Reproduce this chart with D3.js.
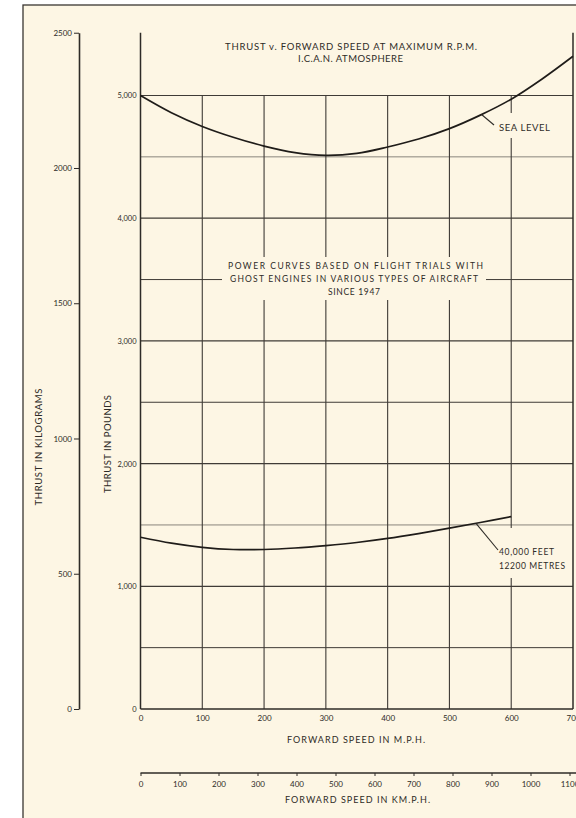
<!DOCTYPE html>
<html>
<head>
<meta charset="utf-8">
<script src="https://cdn.jsdelivr.net/npm/d3@7"></script>
<style>
body { margin: 0; background: #fff; }
svg text { font-family: Lato, "DejaVu Sans", sans-serif; fill: #2e2b27; }
</style>
</head>
<body>
<svg id="chart" width="576" height="818"></svg>
<script>
// values
var mphTicks = [0, 100, 200, 300, 400, 500, 600, 700];
var kmhTicks = [0, 100, 200, 300, 400, 500, 600, 700, 800, 900, 1000, 1100];
var lbsTicks = [0, 1000, 2000, 3000, 4000, 5000];
var lbsGrid = [500, 1000, 1500, 2000, 2500, 3000, 3500, 4000, 4500, 5000];
var kgTicks = [0, 500, 1000, 1500, 2000, 2500];

var seaLevelMph = [0, 50, 100, 150, 200, 250, 300, 350, 400, 450, 500, 550, 600, 650, 700];
var seaLevelLbs = [5000, 4860, 4748, 4660, 4588, 4535, 4512, 4528, 4580, 4645, 4730, 4840, 4970, 5135, 5320];

var alt40kMph = [0, 50, 100, 150, 200, 250, 300, 350, 400, 450, 500, 550, 600];
var alt40kLbs = [1400, 1352, 1318, 1300, 1300, 1312, 1332, 1357, 1390, 1430, 1474, 1520, 1568];

var LB_PER_KG = 2.20462;
var cream = "#fdf6e4", ink = "#2e2b27";

var svg = d3.select("#chart");

var x = d3.scaleLinear().domain([0, 700]).range([140.5, 573]);
var y = d3.scaleLinear().domain([0, 5000]).range([709, 95.5]);
var yKg = d3.scaleLinear().domain([0, 2500]).range([y(0), y(2500 * LB_PER_KG)]);
var xKmh = d3.scaleLinear().domain([0, 1100]).range([140.5, 569.5]);
var plotTop = yKg(2500);

// paper + frame
svg.append("rect").attr("x", 23).attr("y", 5).attr("width", 600).attr("height", 840)
	.attr("fill", cream).attr("stroke", "#3a3632").attr("stroke-width", 1.3);

// horizontal grid
svg.append("g").selectAll("line").data(lbsGrid).join("line")
	.attr("x1", x(0)).attr("x2", x(700))
	.attr("y1", function(d) { return y(d); }).attr("y2", function(d) { return y(d); })
	.attr("stroke", function(d) { return (d === 1500 || d === 4500) ? "#8a857c" : "#3f3b36"; })
	.attr("stroke-width", function(d) { return d % 1000 === 0 ? 1.2 : 1; });

// vertical grid
svg.append("g").selectAll("line").data(mphTicks.slice(1, -1)).join("line")
	.attr("x1", function(d) { return x(d); }).attr("x2", function(d) { return x(d); })
	.attr("y1", y(5000)).attr("y2", y(0))
	.attr("stroke", "#3f3b36").attr("stroke-width", 1.1);

// full-height frame lines of the plot
svg.append("g").selectAll("line").data([0, 700]).join("line")
	.attr("x1", function(d) { return x(d); }).attr("x2", function(d) { return x(d); })
	.attr("y1", plotTop).attr("y2", y(0))
	.attr("stroke", ink).attr("stroke-width", 1.5);
svg.append("line").attr("x1", x(0)).attr("x2", x(700)).attr("y1", y(0)).attr("y2", y(0))
	.attr("stroke", ink).attr("stroke-width", 1.5);

// masks behind the notes
function mask(x0, y0, w, h) {
	svg.append("rect").attr("x", x0).attr("y", y0).attr("width", w).attr("height", h).attr("fill", cream);
}
mask(222, 257, 264, 43);
mask(496, 113, 57, 25);
mask(496, 528, 72, 50);

// curves
var line = d3.line()
	.x(function(d) { return x(d[0]); })
	.y(function(d) { return y(d[1]); })
	.curve(d3.curveCatmullRom);

svg.append("path").datum(d3.zip(seaLevelMph, seaLevelLbs))
	.attr("fill", "none").attr("stroke", "#1f1c19").attr("stroke-width", 1.7).attr("d", line);
svg.append("path").datum(d3.zip(alt40kMph, alt40kLbs))
	.attr("fill", "none").attr("stroke", "#1f1c19").attr("stroke-width", 1.7).attr("d", line);

// leaders
var seaAt = d3.scaleLinear().domain(seaLevelMph).range(seaLevelLbs);
var altAt = d3.scaleLinear().domain(alt40kMph).range(alt40kLbs);
svg.append("line").attr("x1", x(552)).attr("y1", y(seaAt(552))).attr("x2", 494).attr("y2", 125)
	.attr("stroke", ink).attr("stroke-width", 1.1);
svg.append("line").attr("x1", x(543)).attr("y1", y(altAt(543))).attr("x2", 498).attr("y2", 550)
	.attr("stroke", ink).attr("stroke-width", 1.1);

// kg axis
var kgAxis = svg.append("g").attr("transform", "translate(79,0)")
	.call(d3.axisLeft(yKg).tickValues(kgTicks).tickSize(5).tickSizeOuter(0).tickPadding(2)
		.tickFormat(d3.format("d")));
kgAxis.select(".domain").attr("stroke", ink).attr("stroke-width", 1.6);
kgAxis.selectAll(".tick line").attr("stroke", ink);
kgAxis.selectAll("text").attr("font-size", 8).attr("font-family", "Lato, sans-serif").attr("fill", ink);

// pounds labels
var lbAxis = svg.append("g").attr("transform", "translate(" + x(0) + ",0)")
	.call(d3.axisLeft(y).tickValues(lbsTicks).tickSize(0).tickPadding(4)
		.tickFormat(function(d) { return d === 0 ? "0" : d3.format(",")(d); }));
lbAxis.select(".domain").remove();
lbAxis.selectAll("text").attr("font-size", 7.5).attr("font-family", "Lato, sans-serif").attr("fill", ink);

// mph labels
var mphAxis = svg.append("g").attr("transform", "translate(0," + y(0) + ")")
	.call(d3.axisBottom(x).tickValues(mphTicks).tickSize(0).tickPadding(6));
mphAxis.select(".domain").remove();
mphAxis.selectAll("text").attr("font-size", 8).attr("font-family", "Lato, sans-serif").attr("fill", ink);

// km/h axis
var kmhAxis = svg.append("g").attr("transform", "translate(0,773)")
	.call(d3.axisBottom(xKmh).tickValues(kmhTicks).tickSize(3).tickSizeOuter(0).tickPadding(5)
		.tickFormat(d3.format("d")));
kmhAxis.select(".domain").remove();
kmhAxis.selectAll(".tick line").attr("stroke", ink);
kmhAxis.selectAll("text").attr("font-size", 8).attr("font-family", "Lato, sans-serif").attr("fill", ink);
svg.append("line").attr("x1", xKmh(0)).attr("x2", 580).attr("y1", 773).attr("y2", 773)
	.attr("stroke", ink).attr("stroke-width", 1.6);

// texts
function label(txt, cx, by, size, len) {
	return svg.append("text").attr("x", cx).attr("y", by).attr("text-anchor", "middle")
		.attr("font-size", size).attr("textLength", len).attr("lengthAdjust", "spacing").text(txt);
}
label("THRUST v. FORWARD SPEED AT MAXIMUM R.P.M.", 351, 50, 9.5, 252);
label("I.C.A.N. ATMOSPHERE", 350.5, 62, 9.5, 105);

label("POWER CURVES BASED ON FLIGHT TRIALS WITH", 355.5, 269, 8.5, 255);
label("GHOST ENGINES IN VARIOUS TYPES OF AIRCRAFT", 354, 282, 8.5, 248);
label("SINCE 1947", 354, 295, 8.5, 52);

svg.append("text").attr("x", 499).attr("y", 131).attr("font-size", 9.5)
	.attr("textLength", 51).attr("lengthAdjust", "spacing").text("SEA LEVEL");
svg.append("text").attr("x", 499).attr("y", 555).attr("font-size", 8.5)
	.attr("textLength", 55).attr("lengthAdjust", "spacing").text("40,000 FEET");
svg.append("text").attr("x", 499).attr("y", 569).attr("font-size", 8.5)
	.attr("textLength", 66).attr("lengthAdjust", "spacing").text("12200 METRES");

label("FORWARD SPEED IN M.P.H.", 356, 743, 9, 138);
label("FORWARD SPEED IN KM.P.H.", 357.5, 803, 9, 145);

svg.append("text").attr("transform", "translate(41.5,447) rotate(-90)").attr("text-anchor", "middle")
	.attr("font-size", 9.5).attr("textLength", 117).attr("lengthAdjust", "spacing").text("THRUST IN KILOGRAMS");
svg.append("text").attr("transform", "translate(110.5,444) rotate(-90)").attr("text-anchor", "middle")
	.attr("font-size", 9.5).attr("textLength", 98).attr("lengthAdjust", "spacing").text("THRUST IN POUNDS");
</script>
</body>
</html>
